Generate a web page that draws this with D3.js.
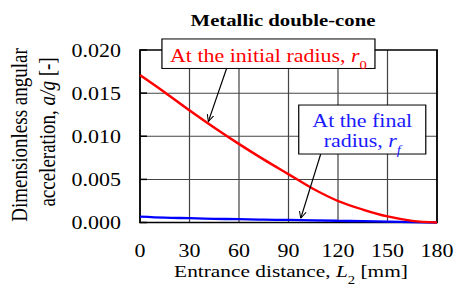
<!DOCTYPE html>
<html>
<head>
<meta charset="utf-8">
<script src="https://cdn.jsdelivr.net/npm/d3@7/dist/d3.min.js"></script>
<style>
  body { margin: 0; background: #fff; }
</style>
</head>
<body>
<div id="chart"></div>
<script>
const WIDTH = 454;
const HEIGHT = 291;
// the original picture is stretched horizontally, so draw in a narrower box and stretch it
const STRETCH = 1.22;
const sx = px => px / STRETCH;
const FONT = "'Liberation Serif', 'Times New Roman', Times, serif";

// entrance distance L2 [mm]
const distances = [0, 15, 30, 45, 60, 75, 90, 105, 120, 135, 150, 165, 180];
// a/g at the initial radius r0
const initialRadius = [0.0171, 0.0151, 0.0130, 0.0110, 0.0091, 0.0073, 0.0056, 0.0039, 0.0025, 0.0015, 0.0007, 0.0002, 0.0000];
// a/g at the final radius rf
const finalRadius = [0.00068, 0.00056, 0.00050, 0.00043, 0.00038, 0.00033, 0.00030, 0.00025, 0.00020, 0.00015, 0.00010, 0.00005, 0.00000];

const xTicks = [0, 30, 60, 90, 120, 150, 180];
const yTicks = [0, 0.005, 0.010, 0.015, 0.020];

let svg = d3.select("#chart")
    .append("svg")
    .attr("width", WIDTH)
    .attr("height", HEIGHT)
    .attr("viewBox", `0 0 ${WIDTH / STRETCH} ${HEIGHT}`)
    .attr("preserveAspectRatio", "none")
    .attr("font-family", FONT)
    .style("display", "block");

let x = d3.scaleLinear().domain([0, 180]).range([sx(140), sx(437)]);
let y = d3.scaleLinear().domain([0, 0.02]).range([222.5, 50]);

svg.append("defs").append("marker")
    .attr("id", "open-arrow")
    .attr("viewBox", "0 0 10 10")
    .attr("refX", 10)
    .attr("refY", 5)
    .attr("markerWidth", 7)
    .attr("markerHeight", 7)
    .attr("markerUnits", "userSpaceOnUse")
    .attr("orient", "auto")
    .append("path")
    .attr("d", "M0,1 L10,5 L0,9")
    .attr("fill", "none")
    .attr("stroke", "black")
    .attr("stroke-width", 1.2);

// grid
svg.append("g")
    .selectAll("line")
    .data(xTicks.slice(1, -1))
    .enter()
    .append("line")
    .attr("x1", d => x(d))
    .attr("x2", d => x(d))
    .attr("y1", y(0))
    .attr("y2", y(0.02))
    .attr("stroke", "#444")
    .attr("stroke-width", 1);

svg.append("g")
    .selectAll("line")
    .data(yTicks.slice(1, -1))
    .enter()
    .append("line")
    .attr("x1", x(0))
    .attr("x2", x(180))
    .attr("y1", d => y(d))
    .attr("y2", d => y(d))
    .attr("stroke", "#444")
    .attr("stroke-width", 1);

// inward ticks on the left
svg.append("g")
    .selectAll("line")
    .data(yTicks)
    .enter()
    .append("line")
    .attr("x1", x(0))
    .attr("x2", x(0) + sx(7))
    .attr("y1", d => y(d))
    .attr("y2", d => y(d))
    .attr("stroke", "black")
    .attr("stroke-width", 1.5);

svg.append("rect")
    .attr("x", x(0))
    .attr("y", y(0.02))
    .attr("width", x(180) - x(0))
    .attr("height", y(0) - y(0.02))
    .attr("fill", "none")
    .attr("stroke", "black")
    .attr("stroke-width", 1.5);

// tick labels
svg.append("g")
    .selectAll("text")
    .data(yTicks)
    .enter()
    .append("text")
    .attr("x", sx(121))
    .attr("y", d => y(d) + 7)
    .attr("text-anchor", "end")
    .style("font-size", "18px")
    .text(d => d3.format(".3f")(d));

svg.append("g")
    .selectAll("text")
    .data(xTicks)
    .enter()
    .append("text")
    .attr("x", d => x(d))
    .attr("y", 257.5)
    .attr("text-anchor", "middle")
    .style("font-size", "18px")
    .text(d => d);

// curves
let line = d3.line()
    .x((d, i) => x(distances[i]))
    .y(d => y(d))
    .curve(d3.curveMonotoneX);

svg.append("path")
    .datum(finalRadius)
    .attr("d", line)
    .attr("fill", "none")
    .attr("stroke", "#0000ff")
    .attr("stroke-width", 2.3);

svg.append("path")
    .datum(initialRadius)
    .attr("d", line)
    .attr("fill", "none")
    .attr("stroke", "#ff0000")
    .attr("stroke-width", 2.3);

// title
svg.append("text")
    .attr("x", sx(283))
    .attr("y", 26)
    .attr("text-anchor", "middle")
    .style("font-size", "17px")
    .style("font-weight", "bold")
    .text("Metallic double-cone");

// x axis label
let xLabel = svg.append("text")
    .attr("x", sx(291))
    .attr("y", 277)
    .attr("text-anchor", "middle")
    .style("font-size", "17.5px");
xLabel.append("tspan").text("Entrance distance, ");
xLabel.append("tspan").style("font-style", "italic").text("L");
xLabel.append("tspan").attr("baseline-shift", "sub").style("font-size", "12px").text("2");
xLabel.append("tspan").text(" [mm]");

// y axis label
svg.append("text")
    .attr("transform", `translate(${sx(27)},135) rotate(-90)`)
    .attr("text-anchor", "middle")
    .style("font-size", "19px")
    .text("Dimensionless angular");

let yLabel = svg.append("text")
    .attr("transform", `translate(${sx(55)},132) rotate(-90)`)
    .attr("text-anchor", "middle")
    .style("font-size", "19px");
yLabel.append("tspan").text("acceleration, ");
yLabel.append("tspan").style("font-style", "italic").text("a/g");
yLabel.append("tspan").text(" [-]");

// call-outs, placed in data units
const notes = [
    {
        color: "#ff0000",
        box: [13.3, 142.4, 0.02128, 0.01786],
        tail: [52.5, 0.01786],
        tip: [41.4, 0.0117],
        lines: [[["At the initial radius, ", ""], ["r", "italic"], ["0", "sub"]]],
        baselines: [23]
    },
    {
        color: "#1a1aff",
        box: [96.2, 173.2, 0.01362, 0.00794],
        tail: [109.5, 0.00794],
        tip: [97.4, 0.00049],
        lines: [[["At the final", ""]], [["radius, ", ""], ["r", "italic"], ["f", "italicsub"]]],
        baselines: [22, 42]
    }
];

notes.forEach(n => {
    svg.append("line")
        .attr("x1", x(n.tail[0]))
        .attr("y1", y(n.tail[1]))
        .attr("x2", x(n.tip[0]))
        .attr("y2", y(n.tip[1]))
        .attr("stroke", "black")
        .attr("stroke-width", 1)
        .attr("marker-end", "url(#open-arrow)");

    svg.append("rect")
        .attr("x", x(n.box[0]))
        .attr("y", y(n.box[2]))
        .attr("width", x(n.box[1]) - x(n.box[0]))
        .attr("height", y(n.box[3]) - y(n.box[2]))
        .attr("fill", "white")
        .attr("stroke", "black")
        .attr("stroke-width", 1);

    n.lines.forEach((parts, i) => {
        let t = svg.append("text")
            .attr("x", (x(n.box[0]) + x(n.box[1])) / 2)
            .attr("y", y(n.box[2]) + n.baselines[i])
            .attr("text-anchor", "middle")
            .attr("fill", n.color)
            .style("font-size", "18px");
        parts.forEach(([str, kind]) => {
            let s = t.append("tspan").text(str);
            if (kind.includes("italic")) s.style("font-style", "italic");
            if (kind.includes("sub")) s.attr("baseline-shift", "sub").style("font-size", "12px");
        });
    });
});
</script>
</body>
</html>
